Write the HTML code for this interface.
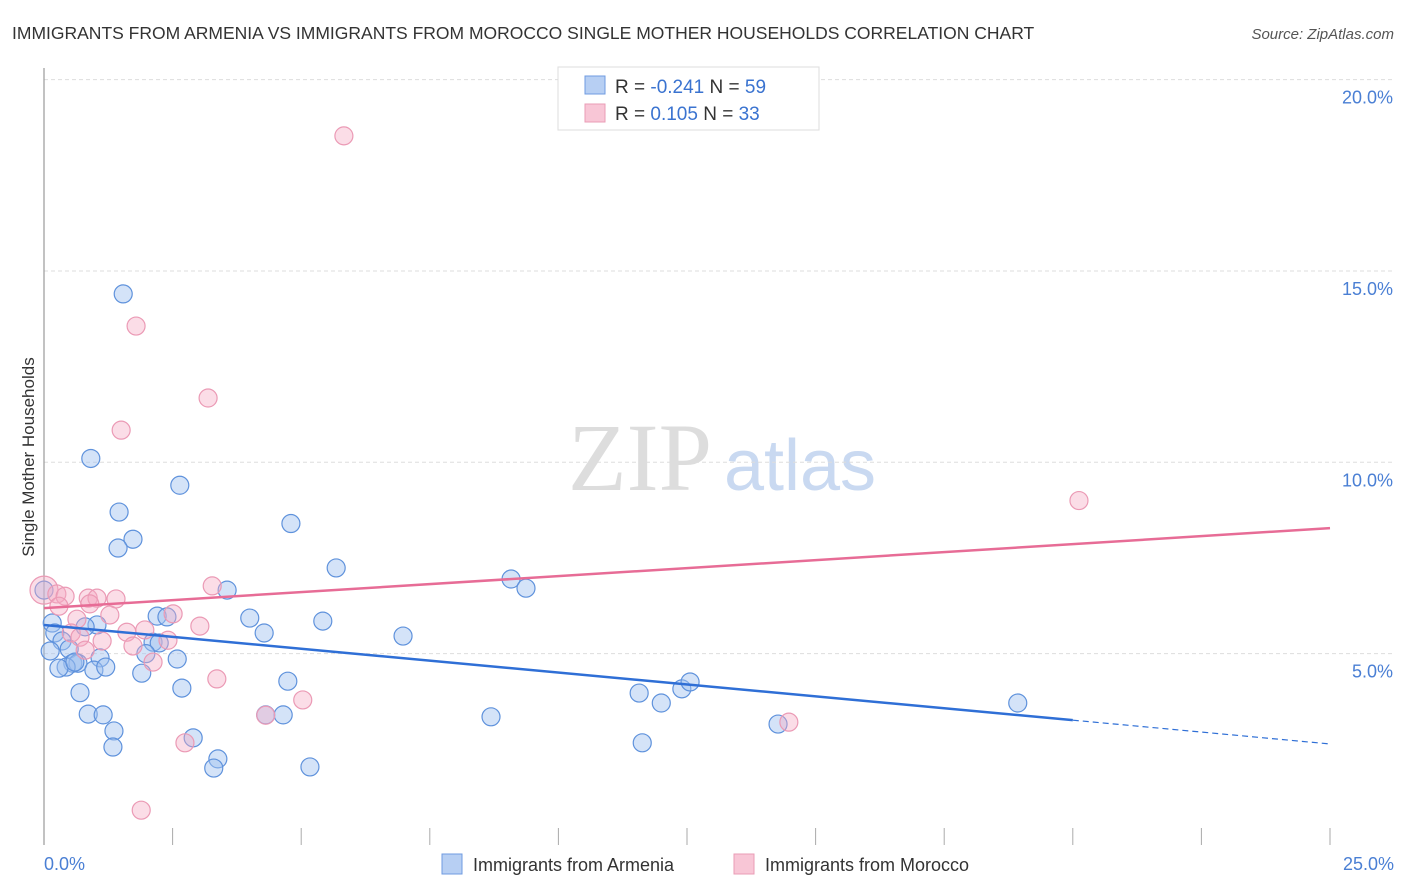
<!DOCTYPE html>
<html><head><meta charset="utf-8"><style>
body{margin:0;background:#fff;font-family:"Liberation Sans",sans-serif}
svg{display:block}
</style></head><body>
<svg id="c" width="1406" height="892" xmlns="http://www.w3.org/2000/svg">
<text x="12" y="39" font-size="17.5" fill="#333">IMMIGRANTS FROM ARMENIA VS IMMIGRANTS FROM MOROCCO SINGLE MOTHER HOUSEHOLDS CORRELATION CHART</text>
<text x="1394" y="39" font-size="15" fill="#555" font-style="italic" text-anchor="end">Source: ZipAtlas.com</text>
<text x="640" y="490" font-size="96" fill="#ddd" font-family="Liberation Serif,serif" text-anchor="middle">ZIP</text>
<text x="800" y="490" font-size="72" fill="#c9d9f1" text-anchor="middle">atlas</text>
<g id="grid"></g>
<line x1="44" y1="68" x2="44" y2="845" stroke="#999" stroke-width="1.2"/>
<text transform="translate(34,457) rotate(-90)" font-size="17" fill="#333" text-anchor="middle">Single Mother Households</text>
<text x="44" y="870" font-size="18" fill="#4a7fd4">0.0%</text>
<text x="1394" y="870" font-size="18" fill="#4a7fd4" text-anchor="end">25.0%</text>
<g id="pts"></g>
<g id="lines"></g>
<g>
<rect x="558" y="67" width="261" height="63" fill="#fff" stroke="#ddd"/>
<rect x="585" y="76" width="20" height="18" fill="#b7cff3" stroke="#6f9be0"/>
<rect x="585" y="104" width="20" height="18" fill="#f8c6d6" stroke="#ea9cb6"/>
<text x="615" y="93" font-size="19" fill="#333">R = <tspan fill="#3a73d0">-0.241</tspan>   N = <tspan fill="#3a73d0">59</tspan></text>
<text x="615" y="120" font-size="19" fill="#333">R =  <tspan fill="#3a73d0"> 0.105</tspan>   N = <tspan fill="#3a73d0">33</tspan></text>
</g>
<g>
<rect x="442" y="854" width="20" height="20" fill="#b7cff3" stroke="#6f9be0"/>
<text x="473" y="871" font-size="18" fill="#333">Immigrants from Armenia</text>
<rect x="734" y="854" width="20" height="20" fill="#f8c6d6" stroke="#ea9cb6"/>
<text x="765" y="871" font-size="18" fill="#333">Immigrants from Morocco</text>
</g>
</svg>
<script>
const yTicks=[5,10,15,20];
const xTicks=[2.5,5,7.5,10,12.5,15,17.5,20,22.5,25];
const armX=[1.54,0.91,2.64,1.46,4.8,1.73,1.44,5.68,9.08,9.37,3.56,4.0,2.2,2.39,5.42,0,0.16,0.21,1.03,0.8,4.28,6.98,0.35,0.49,0.12,2.12,2.24,1.98,1.09,2.59,0.56,0.66,0.43,0.97,1.2,1.9,2.68,4.74,0.7,11.57,12.0,12.4,12.56,18.93,0.86,1.15,4.31,4.65,8.69,14.27,1.36,2.9,1.34,3.38,3.3,5.17,11.63,0.29,0.6];
const armY=[14.4,10.1,9.4,8.7,8.4,7.99,7.76,7.24,6.95,6.71,6.66,5.93,5.98,5.96,5.85,6.66,5.8,5.54,5.75,5.7,5.54,5.46,5.33,5.12,5.07,5.3,5.28,5.0,4.89,4.86,4.75,4.75,4.65,4.57,4.65,4.49,4.1,4.28,3.98,3.97,3.71,4.08,4.26,3.71,3.42,3.4,3.4,3.4,3.35,3.16,2.98,2.8,2.56,2.25,2.01,2.04,2.67,4.62,4.78];
const morX=[5.83,1.79,3.19,1.5,20.12,0,3.27,0.25,0.41,0.86,1.03,1.4,0.29,0.89,2.51,1.28,0.64,3.03,0.53,1.13,1.61,1.96,0.7,1.73,0.8,2.41,2.12,3.36,5.03,4.31,14.48,2.74,1.89];
const morY=[18.53,13.56,11.68,10.84,9.0,6.66,6.77,6.56,6.5,6.45,6.45,6.43,6.24,6.3,6.04,6.01,5.9,5.72,5.54,5.33,5.56,5.62,5.43,5.2,5.09,5.35,4.78,4.34,3.79,3.39,3.21,2.67,0.91];
const armTrend=[5.75,2.64], morTrend=[6.19,8.28];
const X=v=>44+v/25*1286, Y=v=>845-v*38.27;
const NS='http://www.w3.org/2000/svg';
function mk(tag,attrs,parent){const e=document.createElementNS(NS,tag);for(const k in attrs)e.setAttribute(k,attrs[k]);parent.appendChild(e);return e;}
const grid=document.getElementById('grid');
yTicks.forEach(t=>{
 const l=mk('line',{x1:44,x2:1394,y1:Y(t),y2:Y(t),stroke:'#ddd','stroke-dasharray':'4,3'},grid);
 
 
 const tx=mk('text',{x:1393,y:Y(t)+24,'font-size':18,fill:'#4a7fd4','text-anchor':'end'},grid);
 tx.textContent=t.toFixed(1)+'%';
 
 
});
xTicks.forEach(t=>{
 const l=mk('line',{x1:X(t),x2:X(t),y1:828,y2:845,stroke:'#aaa'},grid);
 
 
});
const pts=document.getElementById('pts');
armX.forEach((x,i)=>{
 const c=mk('circle',{cx:X(x),cy:Y(armY[i]),r:9,fill:'rgba(160,193,240,0.45)',stroke:'#5f92dc','stroke-width':1.2},pts);
 
 
});
morX.forEach((x,i)=>{
 const c=mk('circle',{cx:X(x),cy:Y(morY[i]),r:i==5?14:9,fill:'rgba(246,170,196,0.4)',stroke:'#eb9ab5','stroke-width':1.2},pts);
 
 
});
const lines=document.getElementById('lines');
const at=(tr,x)=>tr[0]+(tr[1]-tr[0])*x/25;
let a=mk('line',{x1:X(0),y1:Y(at(armTrend,0)),x2:X(20),y2:Y(at(armTrend,20)),stroke:'#2f6fd6','stroke-width':2.5},lines);


let b=mk('line',{x1:X(20),y1:Y(at(armTrend,20)),x2:X(25),y2:Y(at(armTrend,25)),stroke:'#2f6fd6','stroke-width':1.2,'stroke-dasharray':'6,4'},lines);


let m=mk('line',{x1:X(0),y1:Y(morTrend[0]),x2:X(25),y2:Y(morTrend[1]),stroke:'#e76c96','stroke-width':2.5},lines);


</script>
</body></html>
